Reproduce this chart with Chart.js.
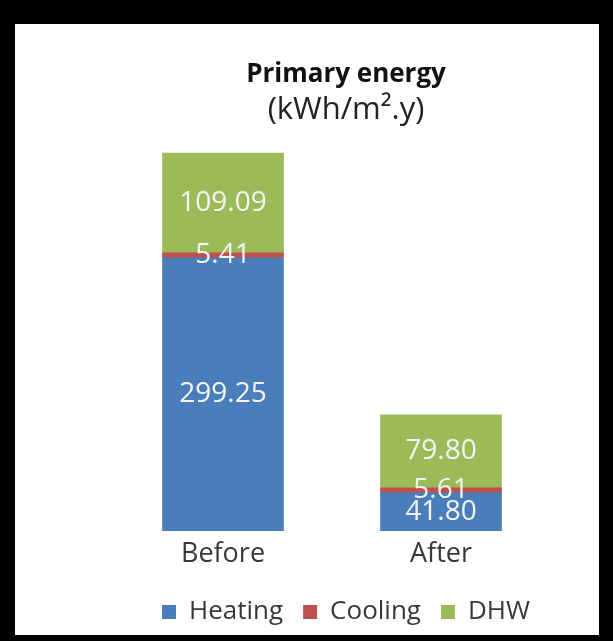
<!DOCTYPE html>
<html>
<head>
<meta charset="utf-8">
<script src="https://cdn.jsdelivr.net/npm/chart.js@4"></script>
<style>
  html, body { margin: 0; padding: 0; background: #000; }
  body { width: 613px; height: 641px; position: relative; overflow: hidden; }
  #frame {
    position: absolute; left: 15px; top: 24px;
    width: 584px; height: 611px; background: #fff;
  }
  #chart { display: block; }
</style>
</head>
<body>
<div id="frame"><canvas id="chart" width="584" height="611"></canvas></div>
<script>
'use strict';

// ─── Data ─────────────────────────────────────────────────────────────────────

const categories = ['Before', 'After'];
const heating    = [299.25, 41.80];
const cooling    = [5.41, 5.61];
const dhw        = [109.09, 79.80];

const FONT = '"Open Sans", "Noto Sans", sans-serif';
const TEXT = '#383838';

// ─── Segment labels (no datalabels plugin offline) ───────────────────────────

const segmentLabels = {
  id: 'segmentLabels',
  afterDatasetsDraw(chart) {
    const { ctx } = chart;
    ctx.save();
    ctx.font = `28px ${FONT}`;
    ctx.fillStyle = '#f4f4f4';
    ctx.textAlign = 'center';
    ctx.textBaseline = 'middle';
    chart.data.datasets.forEach((ds, i) => {
      chart.getDatasetMeta(i).data.forEach((bar, j) => {
        const { x, y, base } = bar.getProps(['x', 'y', 'base'], true);
        ctx.fillText(ds.data[j].toFixed(2), x, (y + base) / 2);
      });
    });
    ctx.restore();
  },
};

// ─── Chart ────────────────────────────────────────────────────────────────────

new Chart(document.getElementById('chart'), {
  type: 'bar',
  data: {
    labels: categories,
    datasets: [
      { label: 'Heating', data: heating, backgroundColor: '#4a7ebb' },
      { label: 'Cooling', data: cooling, backgroundColor: '#c0504d' },
      { label: 'DHW',     data: dhw,     backgroundColor: '#9bbb59' },
    ],
  },
  options: {
    responsive: false,
    animation: false,
    events: [],
    layout: { padding: { left: 99, right: 21, top: 38, bottom: 0 } },
    datasets: {
      bar: { barThickness: 121, borderWidth: 0 },
    },
    plugins: {
      title: {
        display: true,
        text: 'Primary energy',
        color: '#111',
        font: { family: FONT, size: 26, weight: 'bold', lineHeight: 1 },
        padding: { top: 0, bottom: 7 },
      },
      subtitle: {
        display: true,
        text: '(kWh/m\u00B2.y)',
        color: '#222',
        font: { family: FONT, size: 31, lineHeight: 1 },
        padding: { top: 0, bottom: -6 },
      },
      legend: {
        position: 'bottom',
        title: { display: true, text: '', font: { size: 1 }, padding: { top: 9, bottom: 0 } },
        labels: {
          boxWidth: 14,
          boxHeight: 14,
          padding: 20,
          color: TEXT,
          font: { family: FONT, size: 26, lineHeight: 1 },
        },
      },
      tooltip: { enabled: false },
    },
    scales: {
      x: {
        stacked: true,
        grid: { display: false },
        border: { display: false },
        ticks: { color: TEXT, font: { family: FONT, size: 27, lineHeight: 1.1 }, padding: 0 },
      },
      y: {
        stacked: true,
        position: 'right',
        min: 0,
        max: 450,
        grid: { display: false },
        border: { display: false },
        ticks: { display: false },
        afterFit(scale) { scale.width = 28; },
      },
    },
  },
  plugins: [segmentLabels],
});
</script>
</body>
</html>
